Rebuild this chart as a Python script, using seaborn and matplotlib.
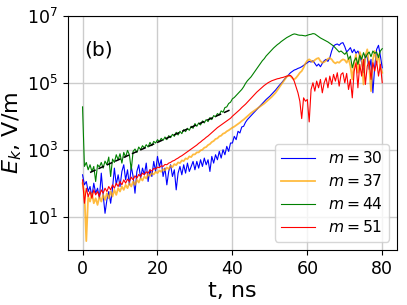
import numpy as np
import matplotlib
matplotlib.use("Agg")
import matplotlib.pyplot as plt
import matplotlib.ticker as mticker
import seaborn as sns

# time grid, 0.5 ns steps (0 .. 80 ns)
t_ns = np.arange(0, 80.01, 0.5)

# log10(E_k), one value per 0.5 ns
logE_m30 = [
    2.25, 1.95, 2.05, 1.75, 1.90, 1.60, 2.00, 1.70, 1.85, 1.55,
    2.30, 1.65, 1.10, 1.50, 1.75, 1.40, 1.85, 2.45, 1.95, 2.25,
    1.90, 2.35, 2.55, 2.10, 2.40, 1.95, 2.50, 2.20, 1.70, 2.35,
    2.55, 2.15, 2.45, 2.25, 2.60, 2.05, 2.40, 2.20, 2.65, 2.35,
    2.80, 2.50, 2.70, 2.20, 2.45, 1.95, 2.35, 2.55, 2.20, 2.40,
    1.80, 2.30, 2.50, 2.25, 2.55, 2.30, 2.60, 2.35, 2.50, 2.65,
    2.40, 2.65, 2.45, 2.70, 2.50, 2.75, 2.55, 2.70, 2.35, 2.80,
    2.60, 2.85, 2.70, 2.95, 2.75, 3.00, 2.85, 3.10, 2.95, 3.20,
    3.20, 3.40, 3.30, 3.55, 3.50, 3.68, 3.70, 3.82, 3.90, 3.96,
    4.02, 4.08, 4.14, 4.20, 4.26, 4.32, 4.38, 4.44, 4.50, 4.55,
    4.60, 4.66, 4.72, 4.78, 4.85, 4.92, 4.98, 5.05, 5.12, 5.18,
    5.24, 5.30, 5.34, 5.38, 5.40, 5.43, 5.45, 5.48, 5.52, 5.56,
    5.60, 5.64, 5.62, 5.66, 5.58, 5.50, 5.56, 5.48, 5.58, 5.66,
    5.70, 5.64, 5.75, 5.95, 6.10, 6.14, 6.16, 6.12, 6.18, 6.20,
    6.08, 5.92, 5.98, 6.05, 5.90, 6.00, 5.88, 5.95, 5.82, 5.60,
    5.30, 5.85, 5.75, 5.40, 5.70, 4.70, 5.50, 6.00, 6.12, 5.80,
    5.45,
]
logE_m37 = [
    2.00, 1.70, 0.27, 1.60, 1.45, 1.70, 1.40, 1.55, 1.35, 1.60,
    1.45, 1.65, 1.50, 1.70, 1.55, 1.75, 1.60, 1.80, 1.65, 1.85,
    1.75, 1.90, 1.80, 1.95, 1.85, 2.00, 1.90, 2.05, 1.95, 2.10,
    2.02, 2.15, 2.08, 2.20, 2.14, 2.26, 2.22, 2.30, 2.26, 2.34,
    2.30, 2.38, 2.34, 2.42, 2.38, 2.47, 2.42, 2.52, 2.48, 2.57,
    2.54, 2.62, 2.60, 2.68, 2.66, 2.74, 2.72, 2.80, 2.78, 2.86,
    2.86, 2.92, 2.92, 2.98, 3.00, 3.06, 3.08, 3.14, 3.17, 3.23,
    3.26, 3.32, 3.34, 3.40, 3.42, 3.48, 3.50, 3.55, 3.58, 3.62,
    3.66, 3.69, 3.73, 3.77, 3.81, 3.86, 3.90, 3.95, 4.00, 4.05,
    4.10, 4.14, 4.18, 4.22, 4.26, 4.30, 4.34, 4.38, 4.43, 4.48,
    4.53, 4.58, 4.64, 4.70, 4.78, 4.86, 4.94, 5.02, 5.10, 5.18,
    5.22, 5.20, 5.14, 5.10, 5.15, 5.22, 5.30, 5.35, 5.45, 5.58,
    5.66, 5.70, 5.66, 5.62, 5.68, 5.72, 5.74, 5.65, 5.60, 5.62,
    5.66, 5.72, 5.74, 5.70, 5.62, 5.58, 5.62, 5.60, 5.66, 5.70,
    5.68, 5.60, 5.72, 5.50, 5.10, 5.60, 5.85, 5.30, 5.92, 5.75,
    4.95, 5.80, 6.00, 5.50, 4.75, 5.70, 5.95, 5.60, 5.85, 5.45,
    5.30,
]
logE_m44 = [
    4.28, 2.50, 2.62, 2.40, 2.55, 2.35, 2.50, 2.05, 2.55, 2.48,
    2.62, 2.45, 2.66, 2.55, 2.78, 2.20, 2.72, 2.62, 2.85, 2.70,
    2.88, 2.60, 2.92, 2.78, 2.98, 2.85, 2.40, 2.95, 3.02, 2.92,
    3.08, 3.00, 3.12, 3.05, 3.15, 3.08, 3.22, 3.12, 3.25, 3.20,
    3.30, 3.24, 3.34, 3.28, 3.38, 3.30, 3.42, 3.36, 3.46, 3.40,
    3.52, 3.44, 3.55, 3.48, 3.60, 3.54, 3.64, 3.58, 3.70, 3.64,
    3.78, 3.70, 3.80, 3.74, 3.86, 3.80, 3.90, 3.84, 3.96, 3.90,
    4.02, 3.98, 4.08, 4.04, 4.16, 4.12, 4.26, 4.28, 4.38, 4.42,
    4.52, 4.56, 4.62, 4.68, 4.74, 4.80, 4.88, 4.98, 5.06, 5.12,
    5.18, 5.26, 5.34, 5.42, 5.50, 5.58, 5.66, 5.72, 5.80, 5.86,
    5.92, 5.98, 6.04, 6.09, 6.14, 6.18, 6.23, 6.27, 6.31, 6.35,
    6.38, 6.41, 6.44, 6.46, 6.45, 6.43, 6.42, 6.42, 6.41, 6.40,
    6.42, 6.44, 6.45, 6.47, 6.46, 6.42, 6.38, 6.34, 6.31, 6.28,
    6.25, 6.22, 6.18, 6.14, 6.10, 6.04, 5.98, 5.92, 5.95, 5.90,
    5.85, 5.92, 5.70, 5.80, 5.45, 5.65, 5.75, 5.55, 5.82, 5.70,
    5.90, 5.75, 5.85, 5.92, 5.78, 5.95, 5.88, 5.92, 5.75, 5.95,
    6.02,
]
logE_m51 = [
    2.10, 1.40, 1.85, 1.60, 1.75, 1.55, 1.80, 1.65, 1.75, 1.60,
    1.80, 1.70, 1.85, 1.75, 1.90, 1.80, 1.95, 1.85, 2.00, 1.90,
    2.05, 1.95, 2.10, 2.00, 2.12, 2.05, 2.18, 2.10, 2.22, 2.15,
    2.26, 2.20, 2.30, 2.25, 2.34, 2.30, 2.40, 2.36, 2.44, 2.42,
    2.48, 2.46, 2.52, 2.50, 2.56, 2.55, 2.60, 2.62, 2.66, 2.68,
    2.72, 2.75, 2.79, 2.82, 2.86, 2.90, 2.94, 2.98, 3.02, 3.06,
    3.10, 3.14, 3.19, 3.23, 3.28, 3.32, 3.37, 3.41, 3.46, 3.51,
    3.56, 3.61, 3.66, 3.70, 3.74, 3.78, 3.82, 3.86, 3.90, 3.94,
    4.00, 4.05, 4.10, 4.15, 4.20, 4.26, 4.31, 4.36, 4.42, 4.48,
    4.54, 4.60, 4.66, 4.72, 4.77, 4.82, 4.87, 4.92, 4.96, 5.00,
    5.03, 5.06, 5.08, 5.10, 5.12, 5.13, 5.15, 5.16, 5.18, 5.20,
    5.21, 5.22, 5.16, 5.05, 4.88, 4.70, 4.45, 3.93, 4.55, 4.45,
    4.50, 3.83, 4.80, 5.00, 4.75, 5.05, 4.85, 5.10, 4.70, 5.00,
    5.15, 4.85, 5.20, 4.95, 5.25, 5.05, 5.30, 4.90, 5.25, 5.30,
    5.00, 5.28, 4.80, 5.10, 4.55, 5.35, 5.60, 4.85, 5.55, 5.20,
    5.70, 4.95, 5.50, 5.65, 5.10, 5.60, 5.35, 5.65, 5.20, 5.55,
    5.00,
]

# exponential fit drawn as dashed line (end points)
fit_t = [2, 40]
fit_logE = [2.32, 4.22]

series_labels = ["$m = 30$", "$m = 37$", "$m = 44$", "$m = 51$"]
series_colors = ["blue", "orange", "green", "red"]
series_logE = [logE_m30, logE_m37, logE_m44, logE_m51]

plt.rcParams['font.family'] = ['DejaVu Sans']

fig = plt.figure(figsize=(4.07, 3.05), dpi=100)
ax = fig.add_axes([0.166, 0.180, 0.810, 0.768])

for logE, col, lab in zip(series_logE, series_colors, series_labels):
    if col == "orange":
        lw, alpha = 1.3, 0.75
    else:
        lw, alpha = 0.8, 1.0
    sns.lineplot(x=t_ns, y=10 ** np.array(logE), color=col, lw=lw, alpha=alpha,
                 label=lab, ax=ax, estimator=None)

sns.lineplot(x=fit_t, y=10 ** np.array(fit_logE), color="black", lw=1.1,
             linestyle=(0, (4, 2)), ax=ax, estimator=None, legend=False)

ax.set_yscale("log")
ax.set_xlim(-4, 84)
ax.set_ylim(1, 1e7)
ax.set_yticks([1e1, 1e3, 1e5, 1e7])
ax.yaxis.set_minor_locator(mticker.NullLocator())
ax.set_xticks([0, 20, 40, 60, 80])
ax.tick_params(labelsize=12.5)
ax.grid(True, color="#cccccc", lw=1)
ax.set_axisbelow(True)

ax.set_xlabel("t, ns", fontsize=16, labelpad=2)
ax.set_ylabel("$E_k$, V/m", fontsize=16, labelpad=2)
ax.text(0.052, 0.83, "(b)", transform=ax.transAxes, fontsize=14.5)

ax.legend(loc="lower right", fontsize=11.2, borderaxespad=0.55,
          handlelength=2.2, labelspacing=0.45)

fig.savefig("out.png", dpi=100)
